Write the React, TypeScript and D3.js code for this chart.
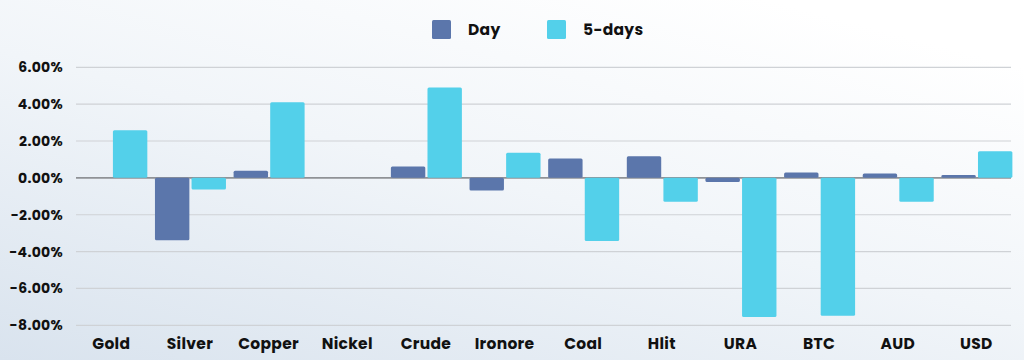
import React from "react";
import * as d3 from "d3";

const categories = ["Gold", "Silver", "Copper", "Nickel", "Crude", "Ironore", "Coal", "Hlit", "URA", "BTC", "AUD", "USD"];
const dayValues = [0, -3.39, 0.38, 0, 0.62, -0.69, 1.05, 1.18, -0.22, 0.29, 0.24, 0.15];
const fiveDayValues = [2.59, -0.63, 4.1, 0, 4.91, 1.36, -3.42, -1.3, -7.55, -7.48, -1.3, 1.45];
const yTicks = [6, 4, 2, 0, -2, -4, -6, -8];
const seriesNames = ["Day", "5-days"];
const seriesColors = ["#5b76ab", "#53d0ea"];

const W = 1024;
const H = 360;
const FONT = "Poppins, 'Noto Sans', 'Open Sans', sans-serif";

export default function App() {
  const x = d3.scaleBand<string>().domain(categories).range([72, 1015.7]).paddingInner(0).paddingOuter(0);
  const y = d3.scaleLinear().domain([-8, 6]).range([325.3, 67.3]);
  const sub = d3.scaleBand<string>().domain(seriesNames).range([-35, 36]).paddingInner(0.06);
  const series = [dayValues, fiveDayValues];

  return (
    <svg width={W} height={H} style={{ position: "absolute", left: 0, top: 0, display: "block" }}>
      <defs>
        <linearGradient id="bg" x1="0" y1="1" x2="0.75" y2="0">
          <stop offset="0" stopColor="#d9e3ee" />
          <stop offset="0.55" stopColor="#f1f5f9" />
          <stop offset="1" stopColor="#ffffff" />
        </linearGradient>
      </defs>
      <rect x={0} y={0} width={W} height={H} fill="url(#bg)" />
      {/* legend */}
      <g fontFamily={FONT} fontWeight={700} fontSize={15.5} fill="#111" letterSpacing={0.3}>
        <rect x={432} y={20} width={19} height={19} fill={seriesColors[0]} rx={1.5} />
        <text x={468} y={35}>{seriesNames[0]}</text>
        <rect x={547} y={20} width={19} height={19} fill={seriesColors[1]} rx={1.5} />
        <text x={583} y={35}>{seriesNames[1]}</text>
      </g>
      {/* grid */}
      {yTicks.map((t) => (
        <g key={t}>
          <line x1={76} x2={1011} y1={y(t)} y2={y(t)} stroke={t === 0 ? "#8f9296" : "#cfd2d6"} strokeWidth={t === 0 ? 1.6 : 1.2} />
          <text x={63} y={y(t) + 5} textAnchor="end" fontFamily={FONT} fontWeight={700} fontSize={14} letterSpacing={0.3} fill="#111">
            {t.toFixed(2) + "%"}
          </text>
        </g>
      ))}
      {/* bars */}
      {categories.map((c, i) => {
        const cx = (x(c) as number) + x.bandwidth() / 2;
        return (
          <g key={c}>
            {series.map((vals, s) => {
              const v = vals[i];
              if (v === 0) return null;
              const y0 = y(0);
              const y1 = y(v);
              return (
                <rect
                  key={s}
                  x={cx + (sub(seriesNames[s]) as number)}
                  y={Math.min(y0, y1)}
                  width={sub.bandwidth()}
                  height={Math.abs(y1 - y0)}
                  fill={seriesColors[s]}
                  rx={1.5}
                />
              );
            })}
            <text x={cx} y={349} textAnchor="middle" fontFamily={FONT} fontWeight={700} fontSize={15.5} letterSpacing={0.3} fill="#111">
              {c}
            </text>
          </g>
        );
      })}
    </svg>
  );
}
